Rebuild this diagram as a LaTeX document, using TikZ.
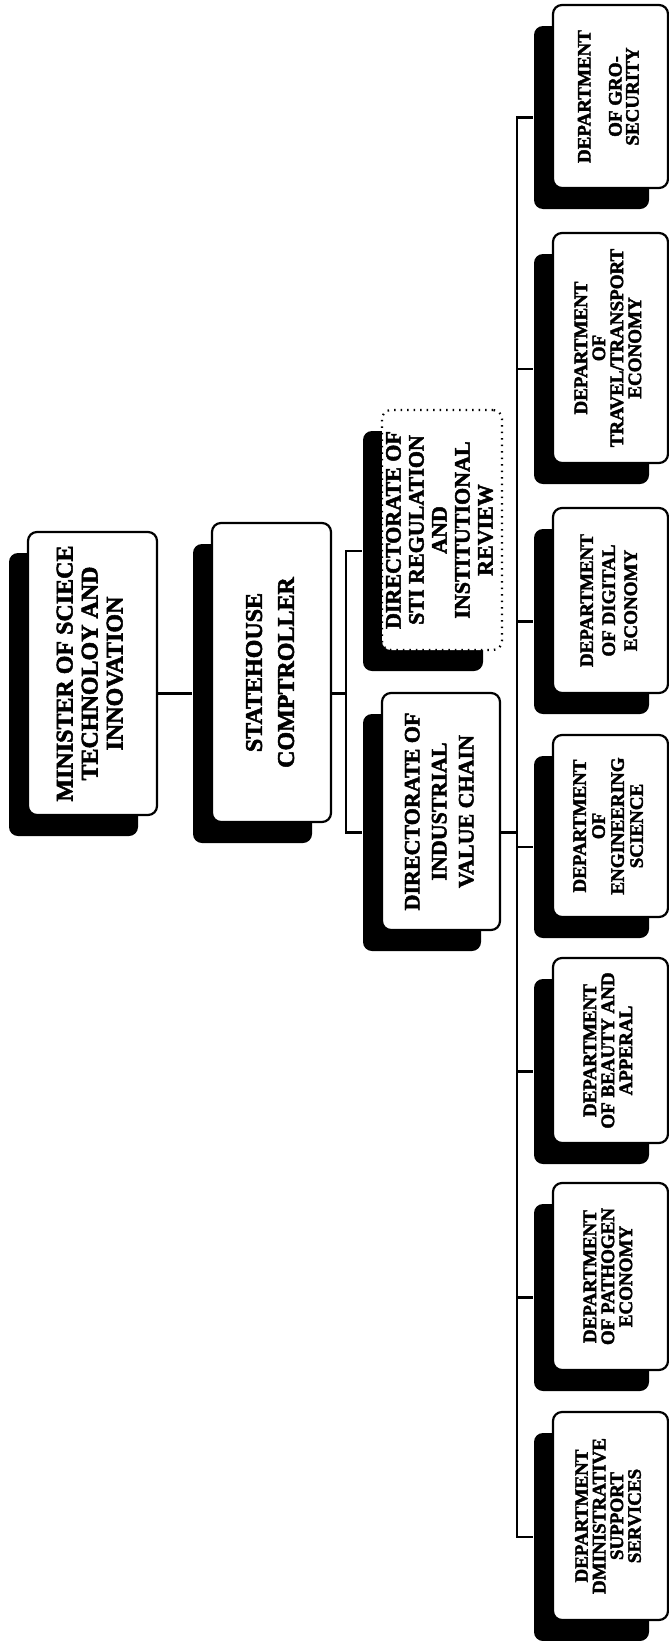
\documentclass[tikz,border=0pt]{standalone}
\usepackage{fontspec}
\setmainfont[BoldFeatures={FakeBold=2.2}]{Liberation Serif}
\usetikzlibrary{shadows}
\newcommand{\vtext}[3]{\rotatebox{90}{\fontsize{#1}{#2}\selectfont\bfseries\begin{tabular}{@{}c@{}}#3\end{tabular}}}
\begin{document}
\begin{tikzpicture}[x=1pt,y=-1pt,
  box/.style={draw=black, line width=2.2pt, fill=white, rounded corners=9pt, inner sep=0pt,
    drop shadow={shadow xshift=-19pt, shadow yshift=-21pt, fill=black, opacity=1}},
  dept/.style={box, minimum width=115pt},
  conn/.style={line width=2.2pt}]
\useasboundingbox (0,0) rectangle (669,1641);

% top levels
\node[box, minimum width=129pt, minimum height=283pt] (min) at (92.5,673.5)
  {\vtext{24}{25}{MINISTER OF SCIECE\\TECHNOLOY AND\\INNOVATION}};
\node[box, minimum width=119pt, minimum height=299pt] (st) at (271.5,672.5)
  {\vtext{24}{32}{STATEHOUSE\\COMPTROLLER}};

% directorates
\node[box, dash pattern=on 1.5pt off 5pt, minimum width=120pt, minimum height=240pt] (sti) at (442,530)
  {\vtext{22}{23}{DIRECTORATE OF\\STI REGULATION\\AND\\INSTITUTIONAL\\REVIEW}};
\node[box, minimum width=118pt, minimum height=237pt] (ind) at (441,811.5)
  {\vtext{22}{27}{DIRECTORATE OF\\INDUSTRIAL\\VALUE CHAIN}};

% departments
\node[dept, minimum height=183pt] (gro) at (610.5,96.5)
  {\vtext{19}{15}{DEPARTMENT\\[14pt]OF GRO-\\SECURITY}};
\node[dept, minimum height=230pt] (trav) at (610.5,348)
  {\vtext{19}{18}{DEPARTMENT\\OF\\TRAVEL/TRANSPORT\\ECONOMY}};
\node[dept, minimum height=185pt] (dig) at (610.5,600.5)
  {\vtext{19}{22}{DEPARTMENT\\OF DIGITAL\\ECONOMY}};
\node[dept, minimum height=182pt] (eng) at (610.5,826)
  {\vtext{19}{19}{DEPARTMENT\\OF\\ENGINEERING\\SCIENCE}};
\node[dept, minimum height=185pt] (bea) at (610.5,1050.5)
  {\vtext{19}{18}{DEPARTMENT\\OF BEAUTY AND\\APPERAL}};
\node[dept, minimum height=187pt] (pat) at (610.5,1276.5)
  {\vtext{19}{18}{DEPARTMENT\\OF PATHOGEN\\ECONOMY}};
\node[dept, minimum height=208pt] (adm) at (610.5,1516)
  {\vtext{19}{17}{DEPARTMENT\\DMINISTRATIVE\\SUPPORT\\SERVICES}};

% shadow attachment points
\foreach \n in {st,sti,ind,gro,trav,dig,eng,bea,pat,adm}
  \coordinate (\n S) at ([xshift=-19pt,yshift=-21pt]\n.west);

% connectors
\draw[conn] (min.east |- stS) -- (stS);
\path (st.east |- stS) ++(14,0) coordinate (brk);
\draw[conn] (st.east |- stS) -- (brk);
\draw[conn] (stiS) -| (brk) |- (indS);
\path (ind.east |- indS) ++(16,0) coordinate (bus);
\draw[conn] (ind.east |- indS) -- (bus);
\draw[conn] (groS) -| (bus) |- (admS);
\foreach \n in {trav,dig,eng,bea,pat}
  \draw[conn] (bus |- \n S) -- (\n S);
\end{tikzpicture}
\end{document}
